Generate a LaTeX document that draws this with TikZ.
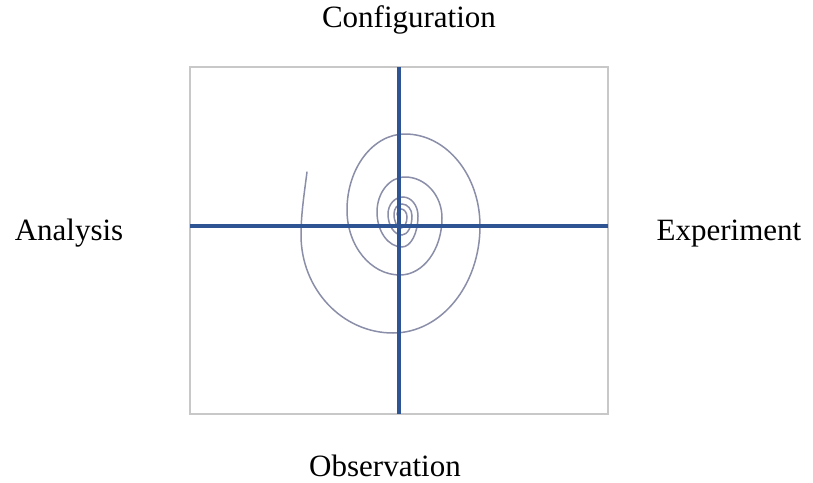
\documentclass[tikz,border=0pt]{standalone}
\usepackage{fontspec}
\setmainfont{Liberation Serif}
\definecolor{axisblue}{HTML}{2F5493}
\definecolor{spiralgray}{HTML}{8A8EA8}
\definecolor{framegray}{HTML}{C8C8C8}
\tikzset{
  frame/.style={draw=framegray, line width=1pt},
  crossline/.style={axisblue, line width=2pt},
  spiralline/.style={spiralgray, line width=0.75pt, line cap=round},
  phase/.style={font=\fontsize{15.5}{18}\selectfont, anchor=base, inner sep=0pt},
}

\begin{document}
\begin{tikzpicture}[x=0.5pt,y=-0.5pt]
\useasboundingbox (0,0) rectangle (813,482);

% ============ frame and cross ==============================================
\coordinate (nw) at (190,67);
\coordinate (se) at (608,414);
\coordinate (top) at (399,67);
\coordinate (bottom) at (399,414);
\coordinate (left) at (190,226);
\coordinate (right) at (608,226);
\draw[frame] (nw) rectangle (se);

% ============ spiral: tail, then quarter arcs inwards ======================
\coordinate (tail) at (307,172);
\coordinate (outerleft) at (301,235);
\draw[spiralline] (tail) .. controls (304,195) and (301,215) .. (outerleft)
  \foreach \rx/\ry [count=\i] in {92/98, 87/107, 75/92, 58/76, 53/65, 42/57,
      37/41, 28/35, 25/35, 16/31, 15/19, 15/17, 14/21, 10/19, 10/12, 8/10,
      7/14, 6/11, 6/8, 4/6}
  { arc[start angle={270-90*\i}, end angle={180-90*\i},
        x radius=\rx, y radius=\ry] };

\draw[crossline] (left) -- (right);
\draw[crossline] (top) -- (bottom);

% ============ phase labels =================================================
\node[phase] (config) at (409,27) {Configuration};
\node[phase] (analysis) at (69,240) {Analysis};
\node[phase] (experiment) at (729,240) {Experiment};
\node[phase] (observation) at (385,476) {Observation};

\end{tikzpicture}
\end{document}
